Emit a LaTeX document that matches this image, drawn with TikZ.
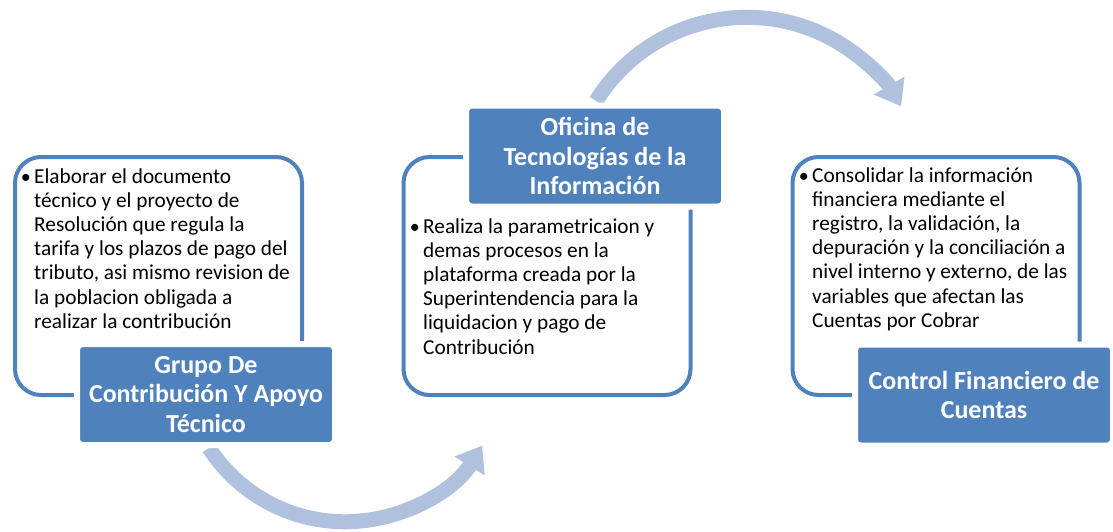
\documentclass[tikz,border=0pt]{standalone}
\usepackage{fontspec}
\setmainfont{Carlito}
\usepackage{tikz}
\usetikzlibrary{arrows.meta}
\definecolor{azul}{RGB}{79,129,189}
\definecolor{azulclaro}{RGB}{176,193,222}
\tikzset{
    marco/.style={draw=azul, line width=4pt, rounded corners=26pt, minimum width=287pt, minimum height=238pt, inner sep=0pt},
    titulo/.style={fill=azul, draw=white, line width=6pt, rounded corners=6pt, minimum width=258pt, minimum height=101pt, inner sep=0pt, text=white, align=center, font=\fontsize{26}{29.5}\selectfont\bfseries},
    cuerpo/.style={anchor=base west, inner sep=0pt, text width=275pt, align=flush left, font=\fontsize{21.3}{24.2}\selectfont},
    vineta/.style={anchor=base east, inner sep=0pt, font=\fontsize{20}{24.2}\selectfont},
    flecha/.style={draw=azulclaro, line width=15pt, -{Triangle[width=34pt,length=24pt]}}
}
\begin{document}
\begin{tikzpicture}[x=1pt,y=-1pt]
            \useasboundingbox (0,0) rectangle (1113,531);
            % flechas
            \coordinate (ini1) at (209,448);
            \coordinate (ini2) at (596,101);
            \draw[flecha] (ini1) arc[start angle=213, end angle=328, radius=162pt];
            \draw[flecha] (ini2) arc[start angle=148, end angle=30, radius=178pt];
            % marcos
            \node[marco] (marcoGrupo) at (158.5,276) {};
            \node[marco] (marcoOficina) at (547,276) {};
            \node[marco] (marcoControl) at (936,276) {};
            % titulos
            \node[titulo] (grupo) at (206,394.5) {Grupo De\\Contribución Y Apoyo\\Técnico};
            \node[titulo] (oficina) at (595,156) {Oficina de\\Tecnologías de la\\Información};
            \node[titulo] (control) at (984,395) {Control Financiero de\\Cuentas};
            % textos
            \node[cuerpo] (txtGrupo) at (34,183) {Elaborar el documento\\técnico y el proyecto de\\Resolución que regula la\\tarifa y los plazos de pago del\\tributo, asi mismo revision de\\la poblacion obligada a\\realizar la contribución};
            \node[vineta] (vinGrupo) at ([xshift=-3pt]txtGrupo.base west) {\textbullet};
            \node[cuerpo] (txtOficina) at (423,233) {Realiza la parametricaion y\\demas procesos en la\\plataforma creada por la\\Superintendencia para la\\liquidacion y pago de\\Contribución};
            \node[vineta] (vinOficina) at ([xshift=-3pt]txtOficina.base west) {\textbullet};
            \node[cuerpo] (txtControl) at (812,182) {Consolidar la información\\financiera mediante el\\registro, la validación, la\\depuración y la conciliación a\\nivel interno y externo, de las\\variables que afectan las\\Cuentas por Cobrar};
            \node[vineta] (vinControl) at ([xshift=-3pt]txtControl.base west) {\textbullet};
        \end{tikzpicture}
\end{document}
